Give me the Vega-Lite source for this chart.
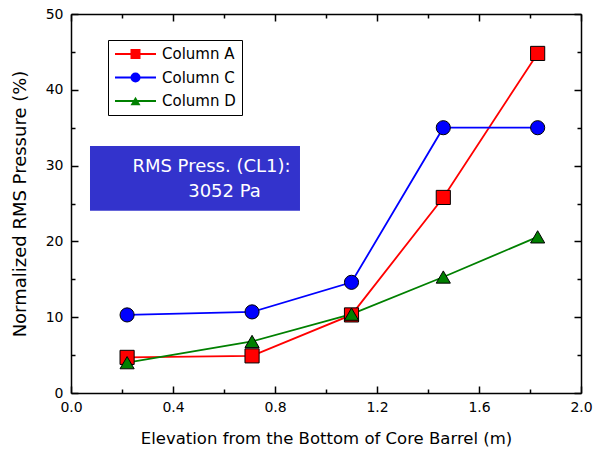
{
  "$schema": "https://vega.github.io/schema/vega-lite/v6.json",
  "width": 510,
  "height": 379,
  "autosize": {"type": "none"},
  "padding": {"left": 71, "top": 14, "right": 20, "bottom": 62},
  "background": "white",
  "config": {
    "view": {"stroke": null},
    "font": "DejaVu Sans",
    "axis": {
      "domainColor": "black",
      "domainWidth": 1.5,
      "tickColor": "black",
      "tickWidth": 1.5,
      "labelColor": "black",
      "labelFont": "DejaVu Sans",
      "labelFontSize": 14,
      "titleFont": "DejaVu Sans",
      "titleFontSize": 16.5,
      "titleFontWeight": "normal",
      "titleColor": "black",
      "grid": false
    }
  },
  "datasets": {
    "pts": [
      {"series": "Column A", "x": 0.22, "y": 4.7},
      {"series": "Column A", "x": 0.71, "y": 4.9},
      {"series": "Column A", "x": 1.10, "y": 10.3},
      {"series": "Column A", "x": 1.46, "y": 25.8},
      {"series": "Column A", "x": 1.83, "y": 44.8},
      {"series": "Column C", "x": 0.22, "y": 10.3},
      {"series": "Column C", "x": 0.71, "y": 10.7},
      {"series": "Column C", "x": 1.10, "y": 14.6},
      {"series": "Column C", "x": 1.46, "y": 35.0},
      {"series": "Column C", "x": 1.83, "y": 35.0},
      {"series": "Column D", "x": 0.22, "y": 4.0},
      {"series": "Column D", "x": 0.71, "y": 6.8},
      {"series": "Column D", "x": 1.10, "y": 10.4},
      {"series": "Column D", "x": 1.46, "y": 15.3},
      {"series": "Column D", "x": 1.83, "y": 20.6}
    ],
    "box": [{"x0": 0.0745, "x1": 0.898, "y0": 32.6, "y1": 24.05}],
    "txt": [
      {"x": 0.551, "y": 29.75, "label": "RMS Press. (CL1):"},
      {"x": 0.602, "y": 26.58, "label": "3052 Pa"}
    ]
  },
  "layer": [
    {
      "data": {"name": "box"},
      "mark": {"type": "rect", "color": "#3333cc"},
      "encoding": {
        "x": {
          "field": "x0", "type": "quantitative",
          "scale": {"domain": [0, 2], "nice": false, "zero": false},
          "axis": {
            "orient": "bottom",
            "title": "Elevation from the Bottom of Core Barrel (m)",
            "values": [0, 0.2, 0.4, 0.6, 0.8, 1.0, 1.2, 1.4, 1.6, 1.8, 2.0],
            "labelExpr": "abs(datum.value*2.5 - round(datum.value*2.5)) < 0.001 ? format(datum.value, '.1f') : ''",
            "tickSize": {"condition": {"test": "abs(datum.value*2.5 - round(datum.value*2.5)) >= 0.001", "value": -4}, "value": -7},
            "labelPadding": 14,
            "labelFlush": false,
            "labelOverlap": false,
            "titlePadding": 13
          }
        },
        "x2": {"field": "x1"},
        "y": {
          "field": "y0", "type": "quantitative",
          "scale": {"domain": [0, 50], "nice": false, "zero": false},
          "axis": {
            "orient": "left",
            "title": "Normalized RMS Pressure (%)",
            "titleFontSize": 18,
            "values": [0, 5, 10, 15, 20, 25, 30, 35, 40, 45, 50],
            "labelExpr": "datum.value % 10 === 0 ? format(datum.value, 'd') : ''",
            "tickSize": {"condition": {"test": "datum.value % 10 !== 0", "value": -4}, "value": -7},
            "labelPadding": 15,
            "labelFlush": false,
            "labelOverlap": false,
            "titlePadding": 16
          }
        },
        "y2": {"field": "y1"}
      }
    },
    {
      "data": {"name": "txt"},
      "mark": {"type": "text", "color": "white", "font": "DejaVu Sans", "fontSize": 18, "align": "center", "baseline": "middle"},
      "encoding": {
        "x": {"field": "x", "type": "quantitative", "scale": {"domain": [0, 2], "nice": false, "zero": false}, "axis": null},
        "y": {"field": "y", "type": "quantitative", "scale": {"domain": [0, 50], "nice": false, "zero": false}, "axis": null},
        "text": {"field": "label"}
      }
    },
    {
      "data": {"name": "pts"},
      "mark": {"type": "line", "strokeWidth": 1.8},
      "encoding": {
        "x": {
          "field": "x", "type": "quantitative",
          "scale": {"domain": [0, 2], "nice": false, "zero": false},
          "axis": {
            "orient": "top", "title": null, "labels": false,
            "values": [0, 0.2, 0.4, 0.6, 0.8, 1.0, 1.2, 1.4, 1.6, 1.8, 2.0],
            "tickSize": {"condition": {"test": "abs(datum.value*2.5 - round(datum.value*2.5)) >= 0.001", "value": -4}, "value": -7}
          }
        },
        "y": {
          "field": "y", "type": "quantitative",
          "scale": {"domain": [0, 50], "nice": false, "zero": false},
          "axis": {
            "orient": "right", "title": null, "labels": false,
            "values": [0, 5, 10, 15, 20, 25, 30, 35, 40, 45, 50],
            "tickSize": {"condition": {"test": "datum.value % 10 !== 0", "value": -4}, "value": -7}
          }
        },
        "stroke": {
          "field": "series", "type": "nominal",
          "scale": {"range": ["#ff0000", "#0000ff", "#008000"]},
          "legend": {
            "title": null, "orient": "none", "legendX": 37, "legendY": 26,
            "padding": 6, "strokeColor": "black", "fillColor": "white",
            "symbolType": "stroke", "symbolSize": 1681, "symbolStrokeWidth": 1.8,
            "clipHeight": 16, "rowPadding": 7.5,
            "labelFont": "DejaVu Sans", "labelFontSize": 15, "labelColor": "black",
            "labelOffset": 5, "zindex": 1
          }
        }
      }
    },
    {
      "data": {"name": "pts"},
      "mark": {"type": "point", "filled": true, "size": 200, "stroke": "black", "strokeWidth": 1, "opacity": 1},
      "encoding": {
        "x": {"field": "x", "type": "quantitative", "scale": {"domain": [0, 2], "nice": false, "zero": false}, "axis": null},
        "y": {"field": "y", "type": "quantitative", "scale": {"domain": [0, 50], "nice": false, "zero": false}, "axis": null},
        "fill": {
          "field": "series", "type": "nominal",
          "scale": {"domain": ["Column A", "Column C", "Column D"], "range": ["#ff0000", "#0000ff", "#008000"]},
          "legend": {
            "title": null, "orient": "none", "legendX": 53, "legendY": 26,
            "padding": 6, "symbolSize": 100, "symbolStrokeColor": "black", "symbolStrokeWidth": 1,
            "symbolOpacity": 1,
            "clipHeight": 16, "rowPadding": 7.5, "labelExpr": "''", "zindex": 2
          }
        },
        "shape": {
          "field": "series", "type": "nominal",
          "scale": {"domain": ["Column A", "Column C", "Column D"], "range": ["square", "circle", "triangle-up"]},
          "legend": {
            "title": null, "orient": "none", "legendX": 53, "legendY": 26,
            "padding": 6, "symbolSize": 100, "symbolStrokeColor": "black", "symbolStrokeWidth": 1,
            "symbolOpacity": 1,
            "clipHeight": 16, "rowPadding": 7.5, "labelExpr": "''", "zindex": 2
          }
        }
      }
    }
  ],
  "resolve": {"axis": {"x": "independent", "y": "independent"}}
}
